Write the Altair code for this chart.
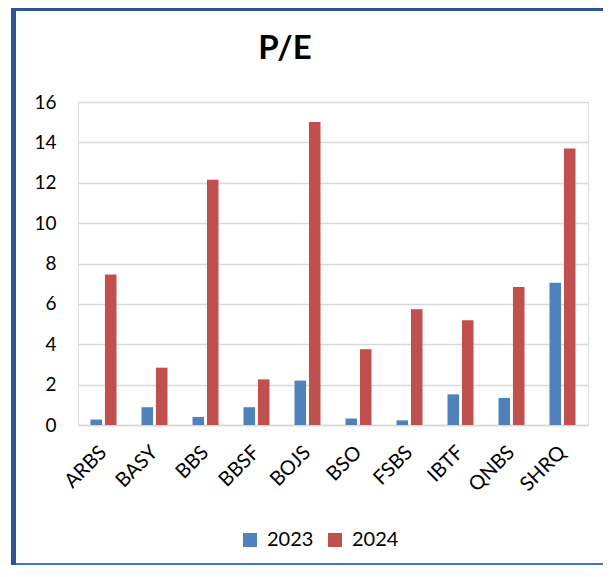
import altair as alt
import pandas as pd

banks = ["ARBS", "BASY", "BBS", "BBSF", "BOJS", "BSO", "FSBS", "IBTF", "QNBS", "SHRQ"]
pe_2023 = [0.27, 0.88, 0.40, 0.88, 2.20, 0.32, 0.23, 1.52, 1.34, 7.05]
pe_2024 = [7.46, 2.84, 12.15, 2.26, 15.01, 3.75, 5.73, 5.19, 6.84, 13.70]
years = ["2023", "2024"]
colors = ["#4F81BD", "#C0504D"]
y_ticks = [0, 2, 4, 6, 8, 10, 12, 14, 16]

rows = []
for i, b in enumerate(banks):
    rows.append({"bank": b, "year": years[0], "pe": pe_2023[i]})
    rows.append({"bank": b, "year": years[1], "pe": pe_2024[i]})
df = pd.DataFrame(rows)

FONT = "Lato"
W, H = 510, 323
PAD = {"left": 70, "top": 94, "right": 15, "bottom": 140}

bars = alt.Chart(df).mark_bar().encode(
    x=alt.X(
        "bank:N", sort=banks, title=None,
        scale=alt.Scale(paddingInner=0.49, paddingOuter=0.245),
        axis=alt.Axis(
            labelAngle=-45, labelFontSize=20, labelFont=FONT, labelColor="#000000",
            ticks=False, domainColor="#D9D9D9", domainWidth=1.5, labelPadding=24,
            labelBaseline="middle", labelAlign="right",
        ),
    ),
    xOffset=alt.XOffset("year:N", sort=years, scale=alt.Scale(paddingInner=0.2, paddingOuter=0)),
    y=alt.Y(
        "pe:Q", title=None, scale=alt.Scale(domain=[0, 16], nice=False),
        axis=alt.Axis(
            values=y_ticks, labelFontSize=19, labelFont=FONT, labelColor="#000000",
            ticks=False, domain=False, gridColor="#D9D9D9", gridWidth=1.5, labelPadding=22,
        ),
    ),
    color=alt.Color(
        "year:N", scale=alt.Scale(domain=years, range=colors),
        legend=alt.Legend(
            title=None, orient="none", legendX=162, legendY=428, direction="horizontal",
            symbolType="square", symbolSize=196, symbolStrokeWidth=0,
            labelFontSize=20, labelFont=FONT, labelColor="#000000",
            columnPadding=11, labelOffset=7, padding=0,
        ),
    ),
)

frame = pd.DataFrame({"k": [0]})
left_border = alt.Chart(frame).mark_rule(color="#2F5597", strokeWidth=5).encode(
    x=alt.value(-64.5), y=alt.value(-94), y2=alt.value(463)
)
top_border = alt.Chart(frame).mark_rule(color="#2F5597", strokeWidth=3).encode(
    x=alt.value(-67), x2=alt.value(W + 15), y=alt.value(-92.5)
)
bottom_border = alt.Chart(frame).mark_rule(color="#4472C4", strokeWidth=2).encode(
    x=alt.value(-62), x2=alt.value(W + 15), y=alt.value(462)
)

chart = alt.layer(bars, left_border, top_border, bottom_border).properties(
    width=W, height=H,
    title=alt.TitleParams("P/E", fontSize=33, font=FONT, fontWeight="bold", color="#000000",
                          anchor="middle", baseline="alphabetic", dx=-48, dy=86, offset=0),
    autosize=alt.AutoSizeParams(type="none"),
    padding=PAD,
).configure_view(strokeWidth=0).configure(background="#FFFFFF")

chart.save("out.html", embed_options={"renderer": "svg", "actions": False})
